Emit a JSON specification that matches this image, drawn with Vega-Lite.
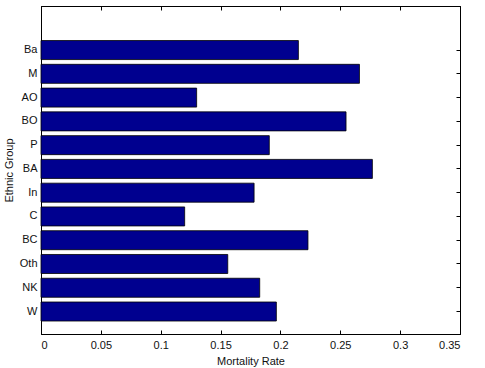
{
  "$schema": "https://vega.github.io/schema/vega-lite/v6.json",
  "width": 419,
  "height": 328,
  "autosize": {"type": "none"},
  "padding": {"left": 41, "top": 6, "right": 25, "bottom": 34},
  "background": "white",
  "config": {
    "view": {"stroke": "black", "strokeWidth": 1},
    "font": "Liberation Sans",
    "axis": {
      "domainColor": "black",
      "tickColor": "black",
      "labelColor": "#111",
      "titleColor": "#111",
      "labelFont": "Liberation Sans",
      "titleFont": "Liberation Sans",
      "labelFontSize": 11,
      "titleFontSize": 11,
      "titleFontWeight": "normal",
      "grid": false
    }
  },
  "data": {
    "values": [
      {"group": "W", "rate": 0.1966},
      {"group": "NK", "rate": 0.1827},
      {"group": "Oth", "rate": 0.156},
      {"group": "BC", "rate": 0.223},
      {"group": "C", "rate": 0.120},
      {"group": "In", "rate": 0.178},
      {"group": "BA", "rate": 0.2768},
      {"group": "P", "rate": 0.1907},
      {"group": "BO", "rate": 0.2548},
      {"group": "AO", "rate": 0.130},
      {"group": "M", "rate": 0.266},
      {"group": "Ba", "rate": 0.215}
    ]
  },
  "layer": [
    {
      "mark": {"type": "bar", "color": "#00008F", "stroke": "black", "strokeWidth": 0.8},
      "encoding": {
        "x": {
          "field": "rate", "type": "quantitative",
          "scale": {"domain": [0, 0.35], "nice": false, "zero": true},
          "axis": {
            "orient": "bottom", "title": "Mortality Rate",
            "values": [0, 0.05, 0.1, 0.15, 0.2, 0.25, 0.3, 0.35],
            "format": "~g", "tickSize": -4, "labelPadding": 9, "titlePadding": 5
          }
        },
        "y": {
          "field": "group", "type": "nominal",
          "sort": ["Ba", "M", "AO", "BO", "P", "BA", "In", "C", "BC", "Oth", "NK", "W"],
          "scale": {"paddingInner": 0.2, "paddingOuter": 1.1, "align": 0.727},
          "axis": {
            "orient": "left", "title": "Ethnic Group",
            "tickSize": -4, "labelPadding": 8, "titlePadding": 5
          }
        }
      }
    },
    {
      "mark": {"type": "bar", "opacity": 0},
      "encoding": {
        "x": {
          "field": "rate", "type": "quantitative",
          "scale": {"domain": [0, 0.35], "nice": false, "zero": true},
          "axis": {
            "orient": "top", "title": null, "labels": false,
            "values": [0, 0.05, 0.1, 0.15, 0.2, 0.25, 0.3, 0.35],
            "tickSize": -4
          }
        },
        "y": {
          "field": "group", "type": "nominal",
          "sort": ["Ba", "M", "AO", "BO", "P", "BA", "In", "C", "BC", "Oth", "NK", "W"],
          "scale": {"paddingInner": 0.2, "paddingOuter": 1.1, "align": 0.727},
          "axis": {
            "orient": "right", "title": null, "labels": false, "tickSize": -4
          }
        }
      }
    }
  ],
  "resolve": {"axis": {"x": "independent", "y": "independent"}}
}
